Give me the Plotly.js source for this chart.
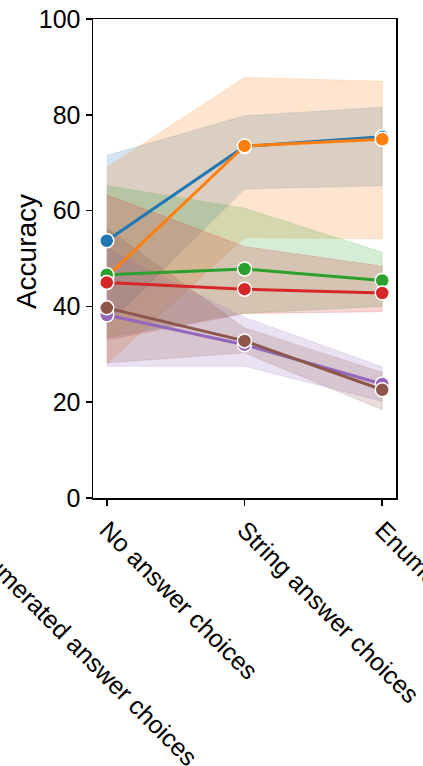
<!DOCTYPE html>
<html>
<head>
<meta charset="utf-8">
<script src="https://cdn.plot.ly/plotly-3.0.1.min.js"></script>
<style>html,body{margin:0;padding:0;background:#fff;}#chart{width:423px;height:766px;}</style>
</head>
<body>
<div id="chart"></div>
<script>
const categories = ["No answer choices", "String answer choices", "Enumerated answer choices"];
const xIndex = [0, 1, 2];

const seriesNames = ["s1", "s2", "s3", "s4", "s5", "s6"];
const seriesColors = ["31,119,180", "255,127,14", "44,160,44", "214,39,40", "148,103,189", "140,86,75"];

const blueMean = [53.7, 73.4, 75.4];
const blueLow = [36.0, 64.5, 65.2];
const blueHigh = [71.5, 79.8, 81.6];

const orangeMean = [46.2, 73.5, 74.9];
const orangeLow = [28.0, 54.4, 54.1];
const orangeHigh = [69.0, 87.8, 87.0];

const greenMean = [46.6, 47.8, 45.4];
const greenLow = [33.5, 38.6, 40.0];
const greenHigh = [65.2, 60.5, 51.3];

const redMean = [45.0, 43.6, 42.8];
const redLow = [33.0, 38.5, 38.9];
const redHigh = [63.3, 52.5, 48.4];

const purpleMean = [38.2, 32.0, 23.8];
const purpleLow = [27.5, 27.5, 20.2];
const purpleHigh = [52.0, 37.7, 27.4];

const brownMean = [39.7, 32.8, 22.6];
const brownLow = [28.2, 30.3, 18.4];
const brownHigh = [56.3, 35.5, 26.2];

const yTitle = "Accuracy";
const neighbourLabel = "Enumerated answer choices";

const means = [blueMean, orangeMean, greenMean, redMean, purpleMean, brownMean];
const lows = [blueLow, orangeLow, greenLow, redLow, purpleLow, brownLow];
const highs = [blueHigh, orangeHigh, greenHigh, redHigh, purpleHigh, brownHigh];

const font = "Liberation Sans, Arial, Helvetica, sans-serif";
const traces = [];
for (let i = 0; i < means.length; i++) {
  const xs = xIndex.concat(xIndex.slice().reverse());
  const ys = highs[i].concat(lows[i].slice().reverse());
  traces.push({
    x: xs, y: ys, type: "scatter", mode: "lines", fill: "toself",
    fillcolor: "rgba(" + seriesColors[i] + ",0.2)",
    line: {color: "rgba(" + seriesColors[i] + ",0.2)", width: 0.8},
    hoverinfo: "skip", showlegend: false
  });
}
for (let i = 0; i < means.length; i++) {
  traces.push({
    x: xIndex, y: means[i], type: "scatter", mode: "lines+markers",
    name: seriesNames[i],
    line: {color: "rgb(" + seriesColors[i] + ")", width: 3},
    marker: {color: "rgb(" + seriesColors[i] + ")", size: 14, line: {color: "#ffffff", width: 1.5}},
    showlegend: false
  });
}

const layout = {
  width: 423, height: 766,
  margin: {l: 93, r: 27, t: 19, b: 268, pad: 0},
  paper_bgcolor: "#ffffff", plot_bgcolor: "#ffffff",
  font: {family: font, color: "#000000", size: 25},
  showlegend: false,
  xaxis: {
    range: [-0.1, 2.1], tickmode: "array", tickvals: xIndex, ticktext: categories,
    tickangle: 45, showgrid: false, zeroline: false,
    showline: true, mirror: true, linecolor: "#000000", linewidth: 1.5,
    ticks: "outside", ticklen: 6, tickwidth: 1.5, tickcolor: "#000000",
    tickfont: {family: font, size: 25, color: "#000000"}, automargin: false,
    ticklabeloverflow: "allow"
  },
  yaxis: {
    range: [0, 100], tickmode: "array", tickvals: [0, 20, 40, 60, 80, 100],
    showgrid: false, zeroline: false,
    showline: true, mirror: true, linecolor: "#000000", linewidth: 1.5,
    ticks: "outside", ticklen: 6, tickwidth: 1.5, tickcolor: "#000000",
    tickfont: {family: font, size: 25, color: "#000000"}, automargin: false,
    ticklabeloverflow: "allow"
  },
  annotations: [
    {
      text: yTitle, xref: "paper", yref: "paper",
      x: -0.221, y: 0.5135, xanchor: "center", yanchor: "middle",
      textangle: -90, showarrow: false,
      font: {family: font, size: 28, color: "#000000"}
    },
    {
      text: neighbourLabel, xref: "paper", yref: "paper",
      x: -0.0396, y: -0.3160, xanchor: "center", yanchor: "middle",
      textangle: 45, showarrow: false,
      font: {family: font, size: 25, color: "#000000"}
    }
  ]
};

Plotly.newPlot("chart", traces, layout, {staticPlot: true, displayModeBar: false});
</script>
</body>
</html>
